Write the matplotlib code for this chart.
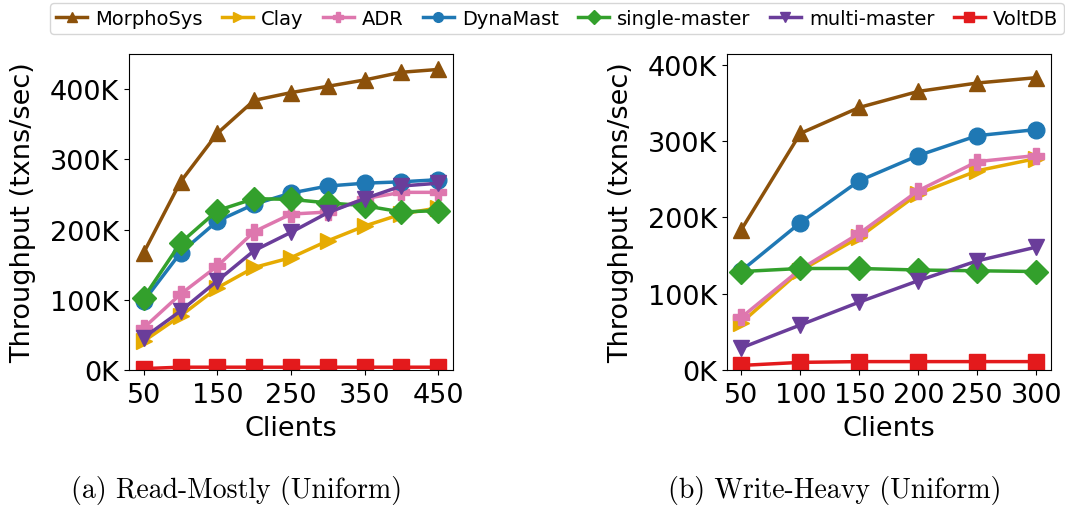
import matplotlib
matplotlib.use("Agg")
import matplotlib.pyplot as plt
from matplotlib.ticker import FuncFormatter
from matplotlib.lines import Line2D

# systems, in legend order
systems = ["MorphoSys", "Clay", "ADR", "DynaMast", "single-master", "multi-master", "VoltDB"]
colors = ["#8c510a", "#e6ab02", "#de77ae", "#1f78b4", "#33a02c", "#6a3d9a", "#e31a1c"]
markers = ["^", ">", "P", "o", "D", "v", "s"]

# (a) Read-Mostly (Uniform), throughput in K txns/sec
clients_a = [50, 100, 150, 200, 250, 300, 350, 400, 450]
morphosys_a = [167, 268, 337, 384, 395, 404, 413, 424, 428]
clay_a = [41, 77, 117, 146, 160, 184, 205, 222, 231]
adr_a = [60, 108, 148, 197, 222, 225, 244, 253, 253]
dynamast_a = [98, 167, 212, 236, 252, 262, 266, 268, 271]
single_a = [103, 181, 227, 244, 243, 238, 234, 225, 227]
multi_a = [46, 84, 127, 170, 196, 224, 244, 262, 266]
voltdb_a = [2, 4, 4, 4, 4, 4, 4, 4, 4]

# (b) Write-Heavy (Uniform)
clients_b = [50, 100, 150, 200, 250, 300]
morphosys_b = [184, 310, 344, 365, 376, 383]
clay_b = [62, 130, 174, 231, 261, 277]
adr_b = [69, 132, 179, 235, 273, 281]
dynamast_b = [130, 193, 248, 281, 307, 315]
single_b = [129, 133, 133, 131, 130, 129]
multi_b = [29, 59, 89, 117, 143, 161]
voltdb_b = [6, 10, 11, 11, 11, 11]

series_a = [morphosys_a, clay_a, adr_a, dynamast_a, single_a, multi_a, voltdb_a]
series_b = [morphosys_b, clay_b, adr_b, dynamast_b, single_b, multi_b, voltdb_b]

FS = 19.5
fig = plt.figure(figsize=(10.65, 5.06), dpi=100)
ax_a = fig.add_axes([0.1211, 0.2668, 0.3042, 0.6245])
ax_b = fig.add_axes([0.6823, 0.2668, 0.3045, 0.6245])

kfmt = FuncFormatter(lambda v, p: "%dK" % round(v / 1000))


def draw(ax, clients, series, xticks, ytop):
    for name, vals, c, m in zip(systems, series, colors, markers):
        ax.plot(clients, [v * 1000 for v in vals], color=c, marker=m,
                markersize=12, linewidth=2.5, label=name)
    ax.set_xticks(xticks)
    ax.set_ylim(0, ytop)
    ax.set_yticks([0, 100000, 200000, 300000, 400000])
    ax.yaxis.set_major_formatter(kfmt)
    ax.tick_params(labelsize=FS)
    ax.tick_params(axis="x", pad=5)
    ax.set_xlabel("Clients", fontsize=FS, labelpad=5)
    ax.set_ylabel("Throughput (txns/sec)", fontsize=FS, labelpad=10)


draw(ax_a, clients_a, series_a, [50, 150, 250, 350, 450], 450000)
draw(ax_b, clients_b, series_b, [50, 100, 150, 200, 250, 300], 414000)

handles = [Line2D([], [], color=c, marker=m, markersize=7, linewidth=2.5)
           for c, m in zip(colors, markers)]
fig.legend(handles, systems, loc="center", bbox_to_anchor=(0.523, 0.9615),
           ncol=7, fontsize=14, handlelength=1.6, handletextpad=0.4,
           columnspacing=1.0, frameon=True, fancybox=True, borderpad=0.3)

fig.text(0.2225, 0.03, "(a) Read-Mostly (Uniform)", family="cmr10",
         fontsize=20, ha="center", va="center")
fig.text(0.784, 0.03, "(b) Write-Heavy (Uniform)", family="cmr10",
         fontsize=20, ha="center", va="center")

fig.savefig("out.png", dpi=100)
